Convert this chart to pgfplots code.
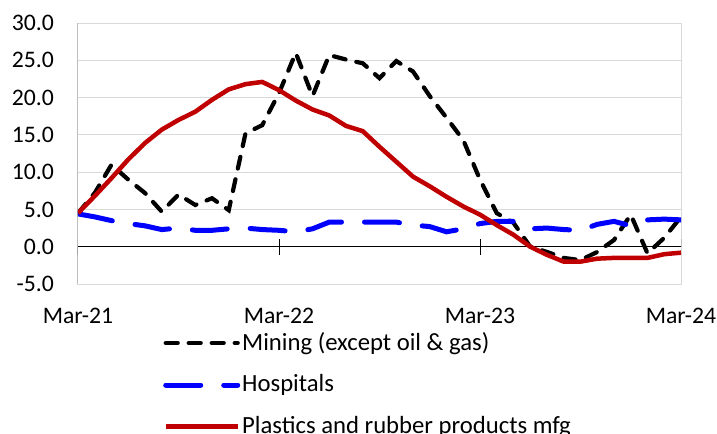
\documentclass[border=0pt]{standalone}
\usepackage{fontspec}
\setmainfont{Carlito}
\usepackage{pgfplots}
\pgfplotsset{compat=1.18}
\definecolor{gridgray}{RGB}{217,217,217}
\definecolor{plred}{RGB}{192,0,0}
\begin{document}
\fontsize{23.5bp}{28bp}\selectfont
\begin{tikzpicture}
\useasboundingbox (-78bp,-150bp) rectangle (639bp,284bp);
\begin{axis}[
 scale only axis, width=603bp, height=261bp,
 at={(0,0)}, anchor=south west,
 xmin=0, xmax=36, ymin=-5, ymax=30,
 xtick={0,12,24,36}, xticklabels={Mar-21,Mar-22,Mar-23,Mar-24},
 ytick={-5,0,5,10,15,20,25,30},
 ymajorgrids, grid style={gridgray, line width=1bp},
 axis line style={gridgray, line width=1bp},
 major tick length=0pt,
 tick label style={font=\fontsize{23.7bp}{28bp}\selectfont},
 /pgf/number format/assume math mode=true,
 yticklabel={\pgfmathprintnumber[fixed,fixed zerofill,precision=1]{\tick}},
 yticklabel style={anchor=east, inner sep=0pt, xshift=-24bp},
 xticklabel style={anchor=north, inner sep=0pt, yshift=-24bp},
 legend cell align=left,
 legend image code/.code={\draw[#1] (0bp,0bp) -- (72bp,0bp);},
 legend style={at={(0.141,-0.176)}, anchor=north west, draw=none, fill=none,
   font=\fontsize{24.7bp}{29bp}\selectfont, row sep=17bp,
   inner xsep=0pt, inner ysep=0pt},
]
\draw[black, line width=1bp] (axis cs:0,0) -- (axis cs:36,0);
\draw[black, line width=1bp] (axis cs:0,-5) -- (axis cs:0,30);
\draw[black, line width=1bp] ([yshift=-8bp]axis cs:12,0) -- ([yshift=8bp]axis cs:12,0);
\draw[black, line width=1bp] ([yshift=-8bp]axis cs:24,0) -- ([yshift=8bp]axis cs:24,0);
\draw[black, line width=1bp] (axis cs:0,0) -- ([yshift=-8bp]axis cs:0,0);
\draw[black, line width=1bp] (axis cs:36,0) -- ([yshift=8bp]axis cs:36,0);

\addplot[black, line width=4.2bp, line cap=round, dash pattern=on 12bp off 11bp] coordinates {
(0,4.5)(1,7.2)(2,11.0)(3,9.0)(4,7.2)(5,4.7)(6,7.0)(7,5.6)(8,6.5)(9,4.9)
(10,15.2)(11,16.3)(12,20.6)(13,26.0)(14,20.2)(15,25.7)(16,25.1)(17,24.6)(18,22.6)(19,24.9)
(20,23.5)(21,20.2)(22,17.3)(23,14.3)(24,9.0)(25,4.5)(26,3.2)(27,0.0)(28,-0.7)(29,-1.5)
(30,-1.8)(31,-0.7)(32,0.9)(33,4.3)(34,-0.9)(35,1.2)(36,4.0)};
\addlegendentry{Mining (except oil \& gas)}

\addplot[blue, line width=5bp, line cap=round, dash pattern=on 35bp off 23bp] coordinates {
(0,4.4)(1,4.0)(2,3.5)(3,3.1)(4,2.8)(5,2.3)(6,2.5)(7,2.2)(8,2.2)(9,2.4)
(10,2.5)(11,2.3)(12,2.2)(13,2.0)(14,2.4)(15,3.3)(16,3.3)(17,3.3)(18,3.3)(19,3.3)
(20,2.9)(21,2.7)(22,2.0)(23,2.4)(24,3.1)(25,3.4)(26,3.4)(27,2.4)(28,2.5)(29,2.3)
(30,2.2)(31,3.0)(32,3.4)(33,2.8)(34,3.6)(35,3.7)(36,3.6)};
\addlegendentry{Hospitals}

\addplot[plred, line width=4.5bp, line join=round] coordinates {
(0,4.5)(1,6.8)(2,9.2)(3,11.7)(4,13.9)(5,15.7)(6,17.0)(7,18.1)(8,19.7)(9,21.1)
(10,21.8)(11,22.1)(12,21.0)(13,19.6)(14,18.4)(15,17.6)(16,16.2)(17,15.5)(18,13.4)(19,11.4)
(20,9.4)(21,8.1)(22,6.7)(23,5.4)(24,4.3)(25,2.9)(26,1.6)(27,0.0)(28,-1.1)(29,-2.0)
(30,-2.0)(31,-1.6)(32,-1.5)(33,-1.5)(34,-1.5)(35,-1.0)(36,-0.8)};
\addlegendentry{Plastics and rubber products mfg}
\end{axis}
\end{tikzpicture}
\end{document}
